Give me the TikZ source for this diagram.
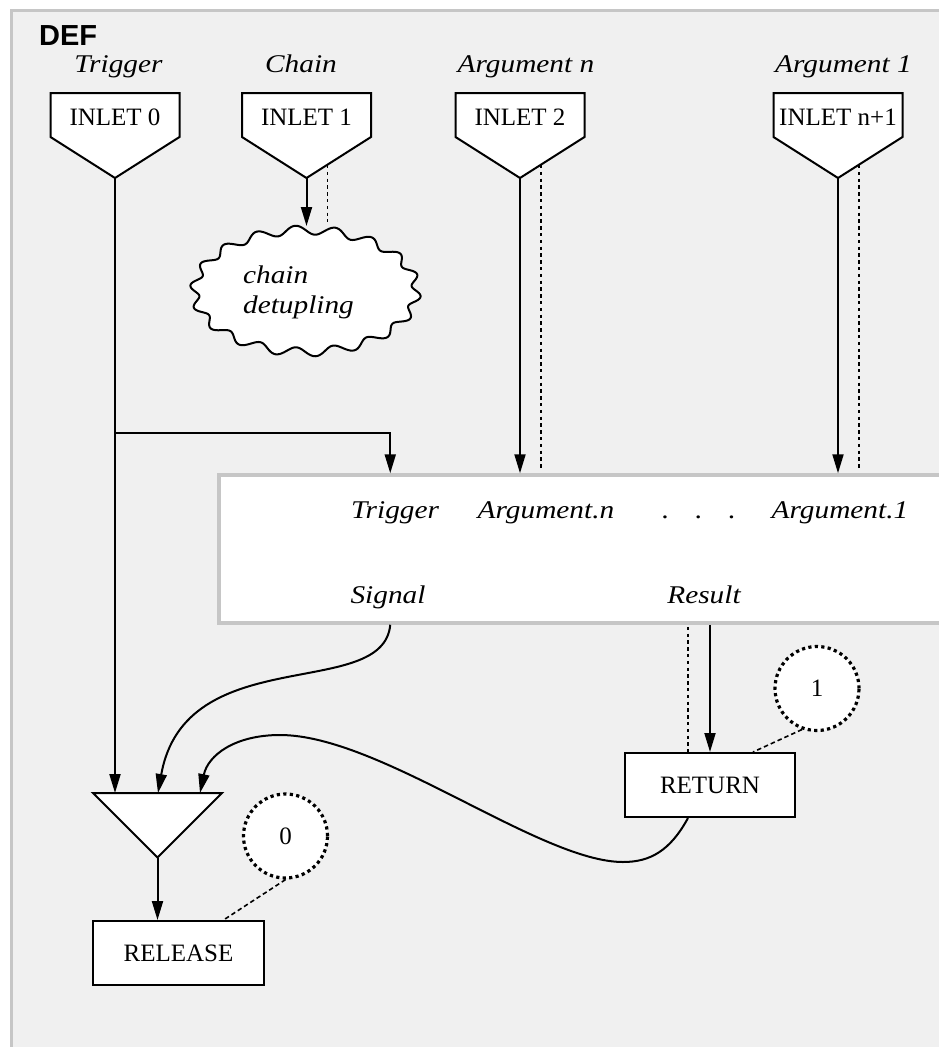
\documentclass[tikz,border=0pt]{standalone}
\usepackage{fontspec}
\setmainfont{Liberation Serif}
\newfontfamily\lblfont{Liberation Serif}[FakeStretch=1.15]
\newfontfamily\deffont{Liberation Sans}
\usetikzlibrary{arrows.meta,shapes.geometric,calc}

\definecolor{panelbg}{HTML}{F0F0F0}
\definecolor{panelrule}{HTML}{C6C6C6}

\tikzset{
  wire/.style={line width=2pt},
  arrowwire/.style={wire, -{Triangle[length=19pt,width=11pt]}},
  shadowwire/.style={line width=1.7pt, dash pattern=on 3.4pt off 3.4pt},
  notewire/.style={line width=1.6pt, dash pattern=on 4.5pt off 3pt},
  outline/.style={draw, fill=white, line width=2pt, line join=miter},
  romanfont/.style={font=\fontsize{25}{30}\selectfont},
  inlettext/.style={romanfont, inner sep=0pt},
  lbl/.style={font=\lblfont\itshape\fontsize{25.5}{30}\selectfont, inner sep=0pt},
  plainbox/.style={outline, romanfont, inner sep=0pt, minimum width=170pt, minimum height=64pt},
  counter/.style={circle, draw, fill=white, line width=3.2pt, dash pattern=on 3.2pt off 3.3pt,
    minimum size=84pt, inner sep=0pt, romanfont},
  funcbox/.style={draw=panelrule, fill=white, line width=3.5pt, minimum width=741pt,
    minimum height=148pt, inner sep=0pt},
  cloudline/.style={draw, fill=white, line width=2pt, line join=round},
}

% an inlet: pentagon pointing down, its label, and a coordinate at its tip
\newcommand\drawinlet[3]{%
  \draw[outline] (#2-64.5,93) -- (#2+64.5,93) -- (#2+64.5,137) -- (#2,178) -- (#2-64.5,137) -- cycle;
  \node[inlettext] (#1) at (#2,117) {#3};
  \coordinate (#1tip) at (#2,178);
}

\begin{document}
\begin{tikzpicture}[x=1pt,y=-1pt]
\useasboundingbox (0,0) rectangle (938,1047);
\fill[white] (0,0) rectangle (938,1047);
% panel
\fill[panelbg] (11,10) rectangle (990,1100);
\draw[panelrule, line width=3pt] (11,1100) -- (11,10) -- (990,10);

\node[anchor=base west, inner sep=0pt, font=\deffont\bfseries\fontsize{29}{30}\selectfont] (title) at (39,45) {DEF};

% inlet titles
\node[lbl, anchor=base] (tTrig)  at (118.5,72) {Trigger};
\node[lbl, anchor=base] (tChain) at (301,72) {Chain};
\node[lbl, anchor=base] (tArgn)  at (526,72) {Argument n};
\node[lbl, anchor=base] (tArg1)  at (843.5,72) {Argument 1};

% inlets
\drawinlet{in0}{115}{INLET 0}
\drawinlet{in1}{306.5}{INLET 1}
\drawinlet{in2}{520}{INLET 2}
\drawinlet{inN}{838}{INLET n+1}

% chain detupling: a wavy ellipse
\path[cloudline] plot[domain=0:360, samples=361]
  ({305.5+(111+4.5*sin(18*\x))*cos(\x)}, {291+(61+4.5*sin(18*\x))*sin(\x)}) -- cycle;
\coordinate (cloudtop) at (306.5,226);
\node[lbl, align=left] (cloudtext) at (298.5,292) {chain\\detupling};

% function body
\node[funcbox] (func) at (589.5,549) {};
\node[lbl, anchor=base] (pTrig) at (395,518) {Trigger};
\node[lbl, anchor=base] (pArgn) at (546,518) {Argument.n};
\node[lbl, anchor=base] (pDots) at (699,518) {.\hspace{26pt}.\hspace{26pt}.};
\node[lbl, anchor=base] (pArg1) at (840,518) {Argument.1};
\node[lbl, anchor=base] (pSig)  at (388,603) {Signal};
\node[lbl, anchor=base] (pRes)  at (704,603) {Result};

% merge, return and release
\draw[outline] (93,793) -- (222,793) -- (157.5,857.5) -- cycle;
\coordinate (mergeL) at (115,793);
\coordinate (mergeC) at (158,793);
\coordinate (mergeR) at (200,793);
\coordinate (mergeTip) at (157.5,857.5);

\node[plainbox] (ret) at (710,785) {RETURN};
\node[plainbox, minimum width=171pt] (release) at (178.5,953) {RELEASE};

\node[counter] (c1) at (817,688.5) {1};
\node[counter] (c0) at (285.5,836) {0};

% connectors
\coordinate (branch) at ($(in0tip)+(0,255)$);
\draw[arrowwire] (in0tip) -- (mergeL);
\draw[arrowwire] (branch) -| ($(func.north west)+(173,0)$);

\draw[arrowwire] (in1tip) -- (cloudtop);
\draw[shadowwire] ($(in1tip)+(21,-13)$) -- ($(cloudtop)+(21,-4)$);

\draw[arrowwire] (in2tip) -- (in2tip |- func.north);
\draw[shadowwire] ($(in2tip)+(21,-13)$) -- ($(in2tip |- func.north)+(21,-3)$);

\draw[arrowwire] (inNtip) -- (inNtip |- func.north);
\draw[shadowwire] ($(inNtip)+(21,-13)$) -- ($(inNtip |- func.north)+(21,-3)$);

\draw[arrowwire] ($(func.south west)+(173,0)$) .. controls +(-7,77) and +(27,-153) .. (mergeC);

\draw[arrowwire] (ret |- func.south) -- (ret.north);
\draw[shadowwire] ($(ret |- func.south)+(-22,2)$) -- ($(ret.north)+(-22,0)$);

\draw[arrowwire] ($(ret.south)+(-22,0)$) .. controls +(-18,33) and +(27,0) .. (623,862)
  .. controls (540,862) and (380,735) .. (280,735)
  .. controls (235,735) and (208,755) .. (mergeR);

\draw[arrowwire] (mergeTip) -- (mergeTip |- release.north);

\draw[notewire] (c1.250) -- ($(ret.north)!0.5!(ret.north east)$);
\draw[notewire] (c0.south) -- ($(release.north)!0.52!(release.north east)$);
\end{tikzpicture}
\end{document}
